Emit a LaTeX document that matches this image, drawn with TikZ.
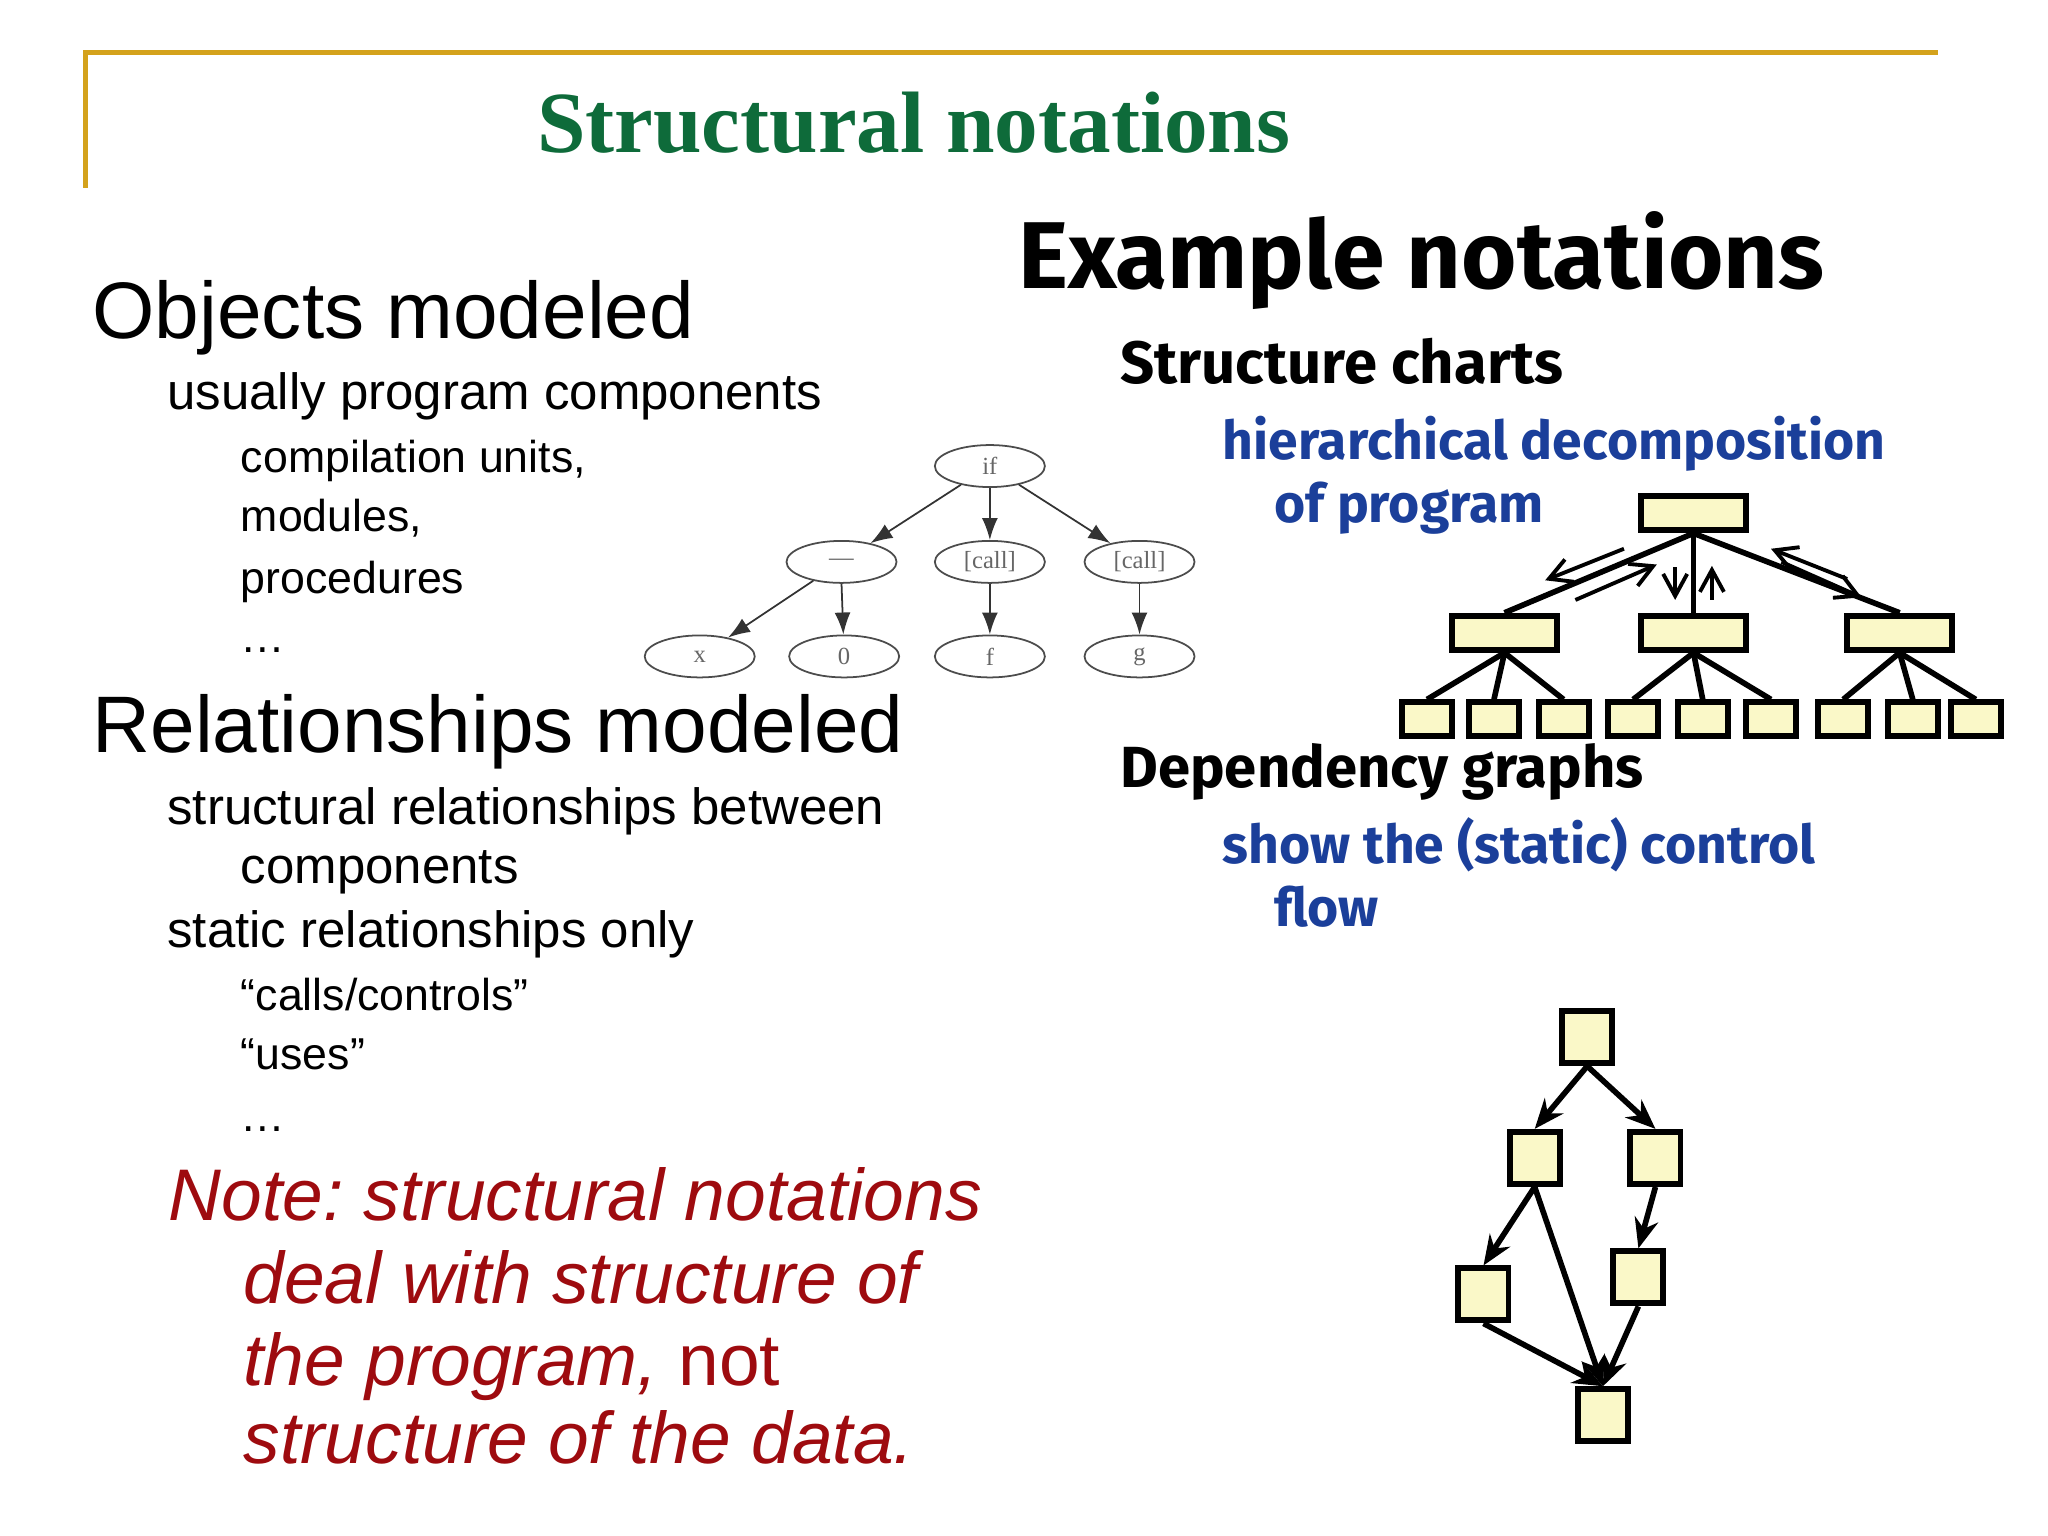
\documentclass[tikz,border=0pt]{standalone}
\usepackage{fontspec}
\setmainfont{Liberation Sans}
\newfontfamily\titlefont{Liberation Serif}
\newfontfamily\comicfont{Fira Sans}
\usetikzlibrary{arrows.meta,shapes.geometric}
\definecolor{gold}{HTML}{D4A21C}
\definecolor{titlegreen}{HTML}{0E6B3A}
\definecolor{notered}{HTML}{9E0B0F}
\definecolor{blu}{HTML}{1B3F9A}
\definecolor{boxfill}{HTML}{FAF8C8}
\tikzset{
  txt/.style={anchor=base west, inner sep=0pt, text=black},
  tnode/.style={ellipse, draw=black!70, line width=0.5pt, minimum width=1.1cm, minimum height=0.42cm, inner sep=0pt, font=\titlefont\fontsize{7}{8}\selectfont, text=black!60},
  tedge/.style={draw=black!80, line width=0.5pt, -{Latex[length=2.2mm,width=1.6mm]}},
  bigbox/.style={draw=black, fill=boxfill, line width=1.7pt, minimum width=1.05cm, minimum height=0.34cm, inner sep=0pt},
  smallbox/.style={draw=black, fill=boxfill, line width=1.7pt, minimum width=0.5cm, minimum height=0.34cm, inner sep=0pt},
  depbox/.style={draw=black, fill=boxfill, line width=1.7pt, minimum width=0.5cm, minimum height=0.52cm, inner sep=0pt},
  cline/.style={draw=black, line width=1.6pt},
  carrow/.style={draw=black, line width=1.1pt, -{Straight Barb[length=2.2mm,width=2.4mm]}},
  dedge/.style={draw=black, line width=1.6pt, -{Stealth[length=3mm,width=2.4mm]}}
}
\begin{document}
\begin{tikzpicture}[x=0.013128cm,y=-0.013128cm]
\useasboundingbox (0,0) rectangle (1560,1170);
% frame
\draw[gold, line width=1.5pt] (65,143) -- (65,40) -- (1476,40);
\node[anchor=base, inner sep=0pt, text=titlegreen, font=\titlefont\bfseries\fontsize{24.8}{28}\selectfont] (title) at (696,116) {Structural notations};
% left text
\node[txt, font=\fontsize{22.8}{27}\selectfont] (om) at (70,258) {Objects modeled};
\node[txt, font=\fontsize{14.5}{17}\selectfont] (upc) at (127,312) {usually program components};
\node[txt, font=\fontsize{12.7}{15}\selectfont] (cu) at (183,360) {compilation units,};
\node[txt, font=\fontsize{12.7}{15}\selectfont] (mo) at (183,405) {modules,};
\node[txt, font=\fontsize{12.7}{15}\selectfont] (pr) at (183,452) {procedures};
\node[txt, font=\fontsize{12.7}{15}\selectfont] (d1) at (183,497) {\dots};
\node[txt, font=\fontsize{22.8}{27}\selectfont] (rm) at (70,573) {Relationships modeled};
\node[txt, font=\fontsize{14.5}{17}\selectfont] (srb) at (127,628) {structural relationships between};
\node[txt, font=\fontsize{14.5}{17}\selectfont] (comp) at (183,673) {components};
\node[txt, font=\fontsize{14.5}{17}\selectfont] (sro) at (127,722) {static relationships only};
\node[txt, font=\fontsize{12.7}{15}\selectfont] (cc) at (183,770) {“calls/controls”};
\node[txt, font=\fontsize{12.7}{15}\selectfont] (us) at (183,815) {“uses”};
\node[txt, font=\fontsize{12.7}{15}\selectfont] (d2) at (183,862) {\dots};
\node[txt, text=notered, font=\itshape\fontsize{20.8}{24}\selectfont] (n1) at (128,930) {Note:\ structural notations};
\node[txt, text=notered, font=\itshape\fontsize{20.8}{24}\selectfont] (n2) at (185,993) {deal with structure of};
\node[txt, text=notered, font=\fontsize{20.8}{24}\selectfont] (n3) at (185,1055) {\itshape the program, \upshape not};
\node[txt, text=notered, font=\itshape\fontsize{20.8}{24}\selectfont] (n4) at (185,1115) {structure of the data.};
% right text
\node[txt, font=\comicfont\bfseries\fontsize{27}{31}\selectfont] (ex) at (775,220) {Example notations};
\node[txt, font=\comicfont\bfseries\fontsize{17}{20}\selectfont] (sc) at (853,292) {Structure charts};
\node[txt, text=blu, font=\comicfont\bfseries\fontsize{15.2}{18}\selectfont] (hd) at (931,350) {hierarchical decomposition};
\node[txt, text=blu, font=\comicfont\bfseries\fontsize{15.2}{18}\selectfont] (op) at (970,398) {of program};
\node[txt, font=\comicfont\bfseries\fontsize{16.5}{19}\selectfont] (dg) at (853,600) {Dependency graphs};
\node[txt, text=blu, font=\comicfont\bfseries\fontsize{15.2}{18}\selectfont] (st) at (931,658) {show the (static) control};
\node[txt, text=blu, font=\comicfont\bfseries\fontsize{15.2}{18}\selectfont] (fl) at (970,706) {flow};
% syntax tree
\node[tnode] (tif) at (754,355) {if};
\node[tnode] (teq) at (641,428) {—};
\node[tnode] (tc1) at (754,428) {[call]};
\node[tnode] (tc2) at (868,428) {[call]};
\node[tnode] (tx) at (533,500) {x};
\node[tnode] (t0) at (643,500) {0};
\node[tnode] (tf) at (754,500) {f};
\node[tnode] (tg) at (868,500) {g};
\draw[tedge] (tif) -- (teq);
\draw[tedge] (tif) -- (tc1);
\draw[tedge] (tif) -- (tc2);
\draw[tedge] (teq) -- (tx);
\draw[tedge] (teq.south) -- (t0);
\draw[tedge] (tc1) -- (tf);
\draw[tedge] (tc2) -- (tg);
% structure chart
\node[bigbox] (top) at (1290,391) {};
\node[bigbox] (m1) at (1146,482) {};
\node[bigbox] (m2) at (1290,482) {};
\node[bigbox] (m3) at (1447,482) {};
\foreach \i/\xx in {1/1087,2/1138,3/1191,4/1244,5/1297,6/1349,7/1404,8/1457,9/1505}
  \node[smallbox] (b\i) at (\xx,548) {};
\draw[cline] (top.south) -- (m1.north);
\draw[cline] (top.south) -- (m2.north);
\draw[cline] (top.south) -- (m3.north);
\draw[cline] (m1.south) -- (b1.north);
\draw[cline] (m1.south) -- (b2.north);
\draw[cline] (m1.south) -- (b3.north);
\draw[cline] (m2.south) -- (b4.north);
\draw[cline] (m2.south) -- (b5.north);
\draw[cline] (m2.south) -- (b6.north);
\draw[cline] (m3.south) -- (b7.north);
\draw[cline] (m3.south) -- (b8.north);
\draw[cline] (m3.south) -- (b9.north);
\draw[carrow] (1237,418) -- (1177,442);
\draw[carrow] (1200,457) -- (1262,430);
\draw[carrow] (1276,432) -- (1276,457);
\draw[carrow] (1304,457) -- (1304,431);
\draw[carrow] (1407,441) -- (1349,418);
\draw[carrow] (1357,428) -- (1418,455);
% dependency graph
\node[depbox] (g1) at (1209,790) {};
\node[depbox] (g2) at (1169,882) {};
\node[depbox] (g3) at (1261,882) {};
\node[depbox] (g4) at (1130,986) {};
\node[depbox] (g5) at (1248,973) {};
\node[depbox] (g6) at (1221,1078) {};
\draw[dedge] (g1.south) -- (g2.north);
\draw[dedge] (g1.south) -- (g3.north);
\draw[dedge] (g2.south) -- (g4.north);
\draw[dedge] (g2.south) -- (g6.north);
\draw[dedge] (g3.south) -- (g5.north);
\draw[dedge] (g4.south) -- (g6.north);
\draw[dedge] (g5.south) -- (g6.north);
\end{tikzpicture}
\end{document}
